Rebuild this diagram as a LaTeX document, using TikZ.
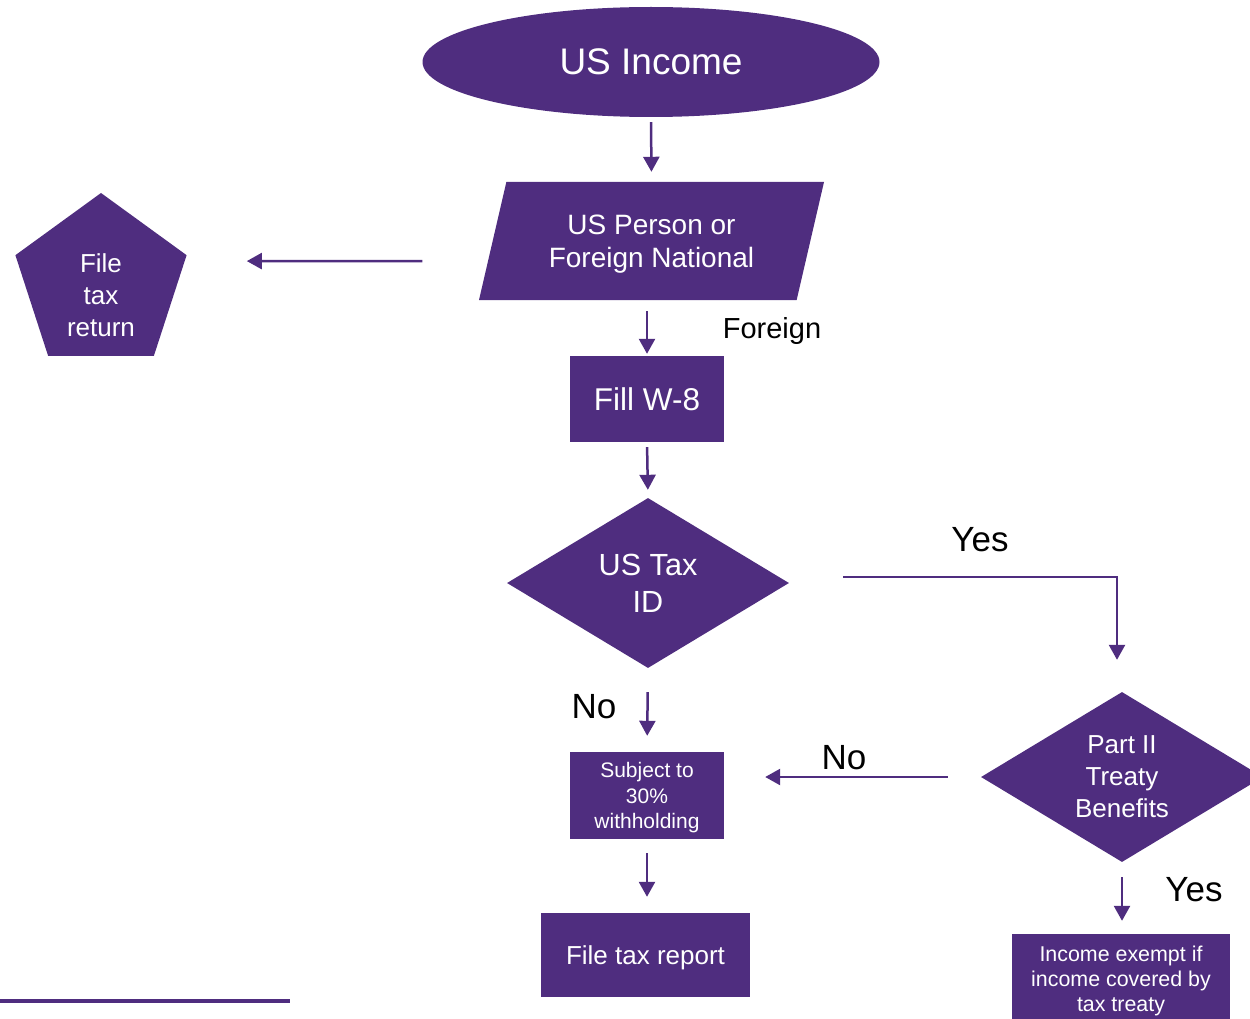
\documentclass[tikz,border=0pt]{standalone}
\usepackage{fontspec}
\setmainfont{Liberation Sans}
\usetikzlibrary{shapes.geometric,arrows.meta}
\definecolor{taxpurple}{RGB}{79,45,127}

\begin{document}
\begin{tikzpicture}[x=1pt,y=-1pt,
  box/.style={fill=taxpurple,text=white,align=center,inner sep=0pt,text depth=0pt},
  flow/.style={draw=taxpurple,line width=2.5pt,-{Triangle[width=16pt,length=15pt]}},
  tag/.style={font=\fontsize{35}{42}\selectfont}]
\useasboundingbox (0,0) rectangle (1250,1019);
\node[box,ellipse,minimum width=457pt,minimum height=110pt,font=\fontsize{37}{44}\selectfont] (inc) at (651,62) {US Income};
\node[box,trapezium,trapezium left angle=62.5,trapezium right angle=117.5,trapezium stretches body,minimum width=345pt,minimum height=118pt,font=\fontsize{28}{33}\selectfont] (per) at (651.5,241) {US Person or\\Foreign National};
\node[box,regular polygon,regular polygon sides=5,minimum size=180pt] (ftr) at (101,283) {};
\node[text=white,align=center,font=\fontsize{26}{32}\selectfont] (ftrtxt) at (101,295) {File\\tax\\return};
\node[box,minimum width=154pt,minimum height=86pt,font=\fontsize{31.5}{38}\selectfont] (w8) at (647,399) {Fill W-8};
\node[box,diamond,aspect=1.66,minimum width=282pt,minimum height=170pt,font=\fontsize{30.6}{37}\selectfont] (tid) at (648,583) {US Tax\\ID};
\node[box,diamond,aspect=1.66,minimum width=282pt,minimum height=170pt,font=\fontsize{26}{32}\selectfont] (p2) at (1122,777) {Part II\\Treaty\\Benefits};
\node[box,minimum width=154pt,minimum height=87pt,font=\fontsize{21}{25.5}\selectfont] (sub) at (647,795.5) {Subject to\\30\%\\withholding};
\node[box,minimum width=209pt,minimum height=84pt,font=\fontsize{26}{31}\selectfont] (ftp) at (645.5,955) {File tax report};
\node[box,minimum width=218pt,minimum height=90pt,font=\fontsize{21.4}{25}\selectfont] (ie) at (1121,979) {Income exempt if\\income covered by\\tax treaty};
% labels
\node[font=\fontsize{29}{35}\selectfont] (lfor) at (772,331) {Foreign};
\node[tag] (lyes1) at (980,540) {Yes};
\node[tag] (lno1) at (594,707) {No};
\node[tag] (lno2) at (844,758) {No};
\node[tag] (lyes2) at (1194,890) {Yes};
% arrows
\draw[flow,shorten <=5pt,shorten >=10pt] (inc.south) -- (per.north);
\draw[flow,shorten <=70pt,shorten >=60pt] ([yshift=-20pt]per.west) -- ([yshift=-6pt]ftr.corner 5);
\draw[flow,shorten <=11pt,shorten >=2pt] (w8.north |- per.south) -- (w8.north);
\draw[flow,shorten <=5pt,shorten >=8pt] (w8.south) -- (tid.north);
\draw[flow,shorten <=24pt,shorten >=16pt] (tid.south) -- (sub.north);
\draw[flow,shorten <=14pt,shorten >=16pt] (sub.south) -- (sub.south |- ftp.north);
\draw[flow,shorten >=32pt] ([xshift=54pt,yshift=6pt]tid.east) -| ([xshift=-5pt]p2.north);
\draw[flow,shorten <=33pt,shorten >=41pt] (p2.west) -- (p2.west -| sub.east);
\draw[flow,shorten <=15pt,shorten >=13pt] (p2.south) -- (p2.south |- ie.north);
\draw[taxpurple,line width=4pt] (0,1001) -- (290,1001);
\end{tikzpicture}
\end{document}
